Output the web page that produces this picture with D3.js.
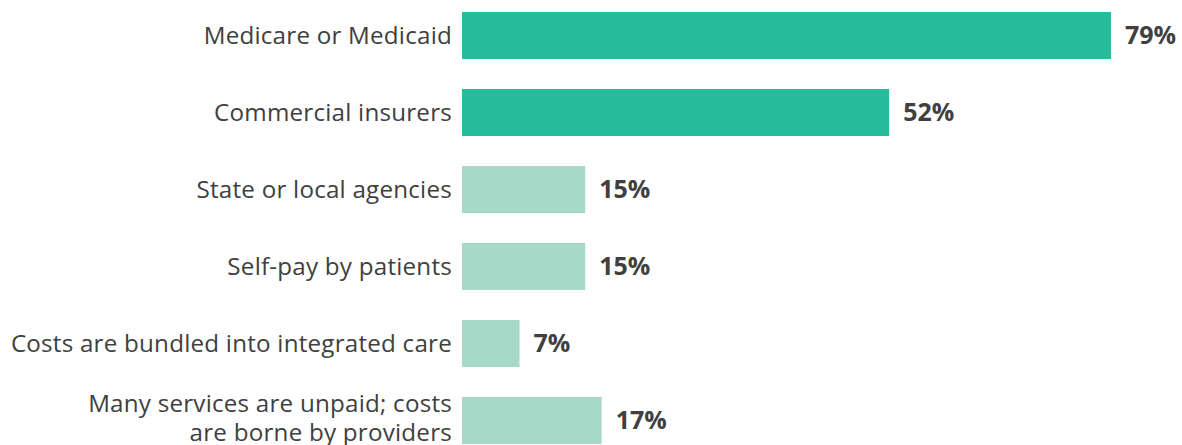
<!DOCTYPE html>
<html>
<head>
<meta charset="utf-8">
<script src="https://cdn.jsdelivr.net/npm/d3@7"></script>
<style>
  body { margin: 0; background: #fff; }
  text { font-family: "Open Sans", sans-serif; }
</style>
</head>
<body>
<div id="chart"></div>
<script>
var width = 1182;
var height = 445;

// data
const categories = [
  ["Medicare or Medicaid"],
  ["Commercial insurers"],
  ["State or local agencies"],
  ["Self-pay by patients"],
  ["Costs are bundled into integrated care"],
  ["Many services are unpaid; costs", "are borne by providers"]
];
const values = [79, 52, 15, 15, 7, 17];
const highlight = [true, true, false, false, false, false];

var x0 = 462;
var x = d3.scaleLinear().domain([0, 79]).range([x0, 1111]);
var y = d3.scaleBand()
  .domain(d3.range(categories.length))
  .range([12 - 15, 12 - 15 + 77 * categories.length])
  .paddingInner(30 / 77)
  .paddingOuter(15 / 77);

var svg = d3.select("#chart").append("svg")
  .attr("width", width)
  .attr("height", height);

var row = svg.append("g")
  .selectAll("g")
  .data(values)
  .enter().append("g");

row.append("rect")
  .attr("x", x0)
  .attr("y", (d, i) => y(i))
  .attr("width", d => x(d) - x0)
  .attr("height", y.bandwidth())
  .attr("fill", (d, i) => highlight[i] ? "#27bc9a" : "#a6d9c8");

row.append("text")
  .attr("x", d => x(d) + 14)
  .attr("y", (d, i) => y(i) + y.bandwidth() / 2)
  .attr("dy", "0.35em")
  .attr("font-size", 25)
  .attr("font-weight", "bold")
  .attr("fill", "#404040")
  .text(d => d + "%");

var lab = row.append("text")
  .attr("text-anchor", "end")
  .attr("font-size", 24.2)
  .attr("letter-spacing", 0.22)
  .attr("fill", "#404040");

lab.each(function(d, i) {
  var lines = categories[i];
  var cy = y(i) + y.bandwidth() / 2;
  var lh = 29.5;
  var shift = lines.length > 1 ? -2.3 : 0;
  d3.select(this).selectAll("tspan")
    .data(lines)
    .enter().append("tspan")
    .attr("x", x0 - 10)
    .attr("y", (t, j) => cy + shift + (j - (lines.length - 1) / 2) * lh)
    .attr("dy", "0.35em")
    .text(t => t);
});
</script>
</body>
</html>
